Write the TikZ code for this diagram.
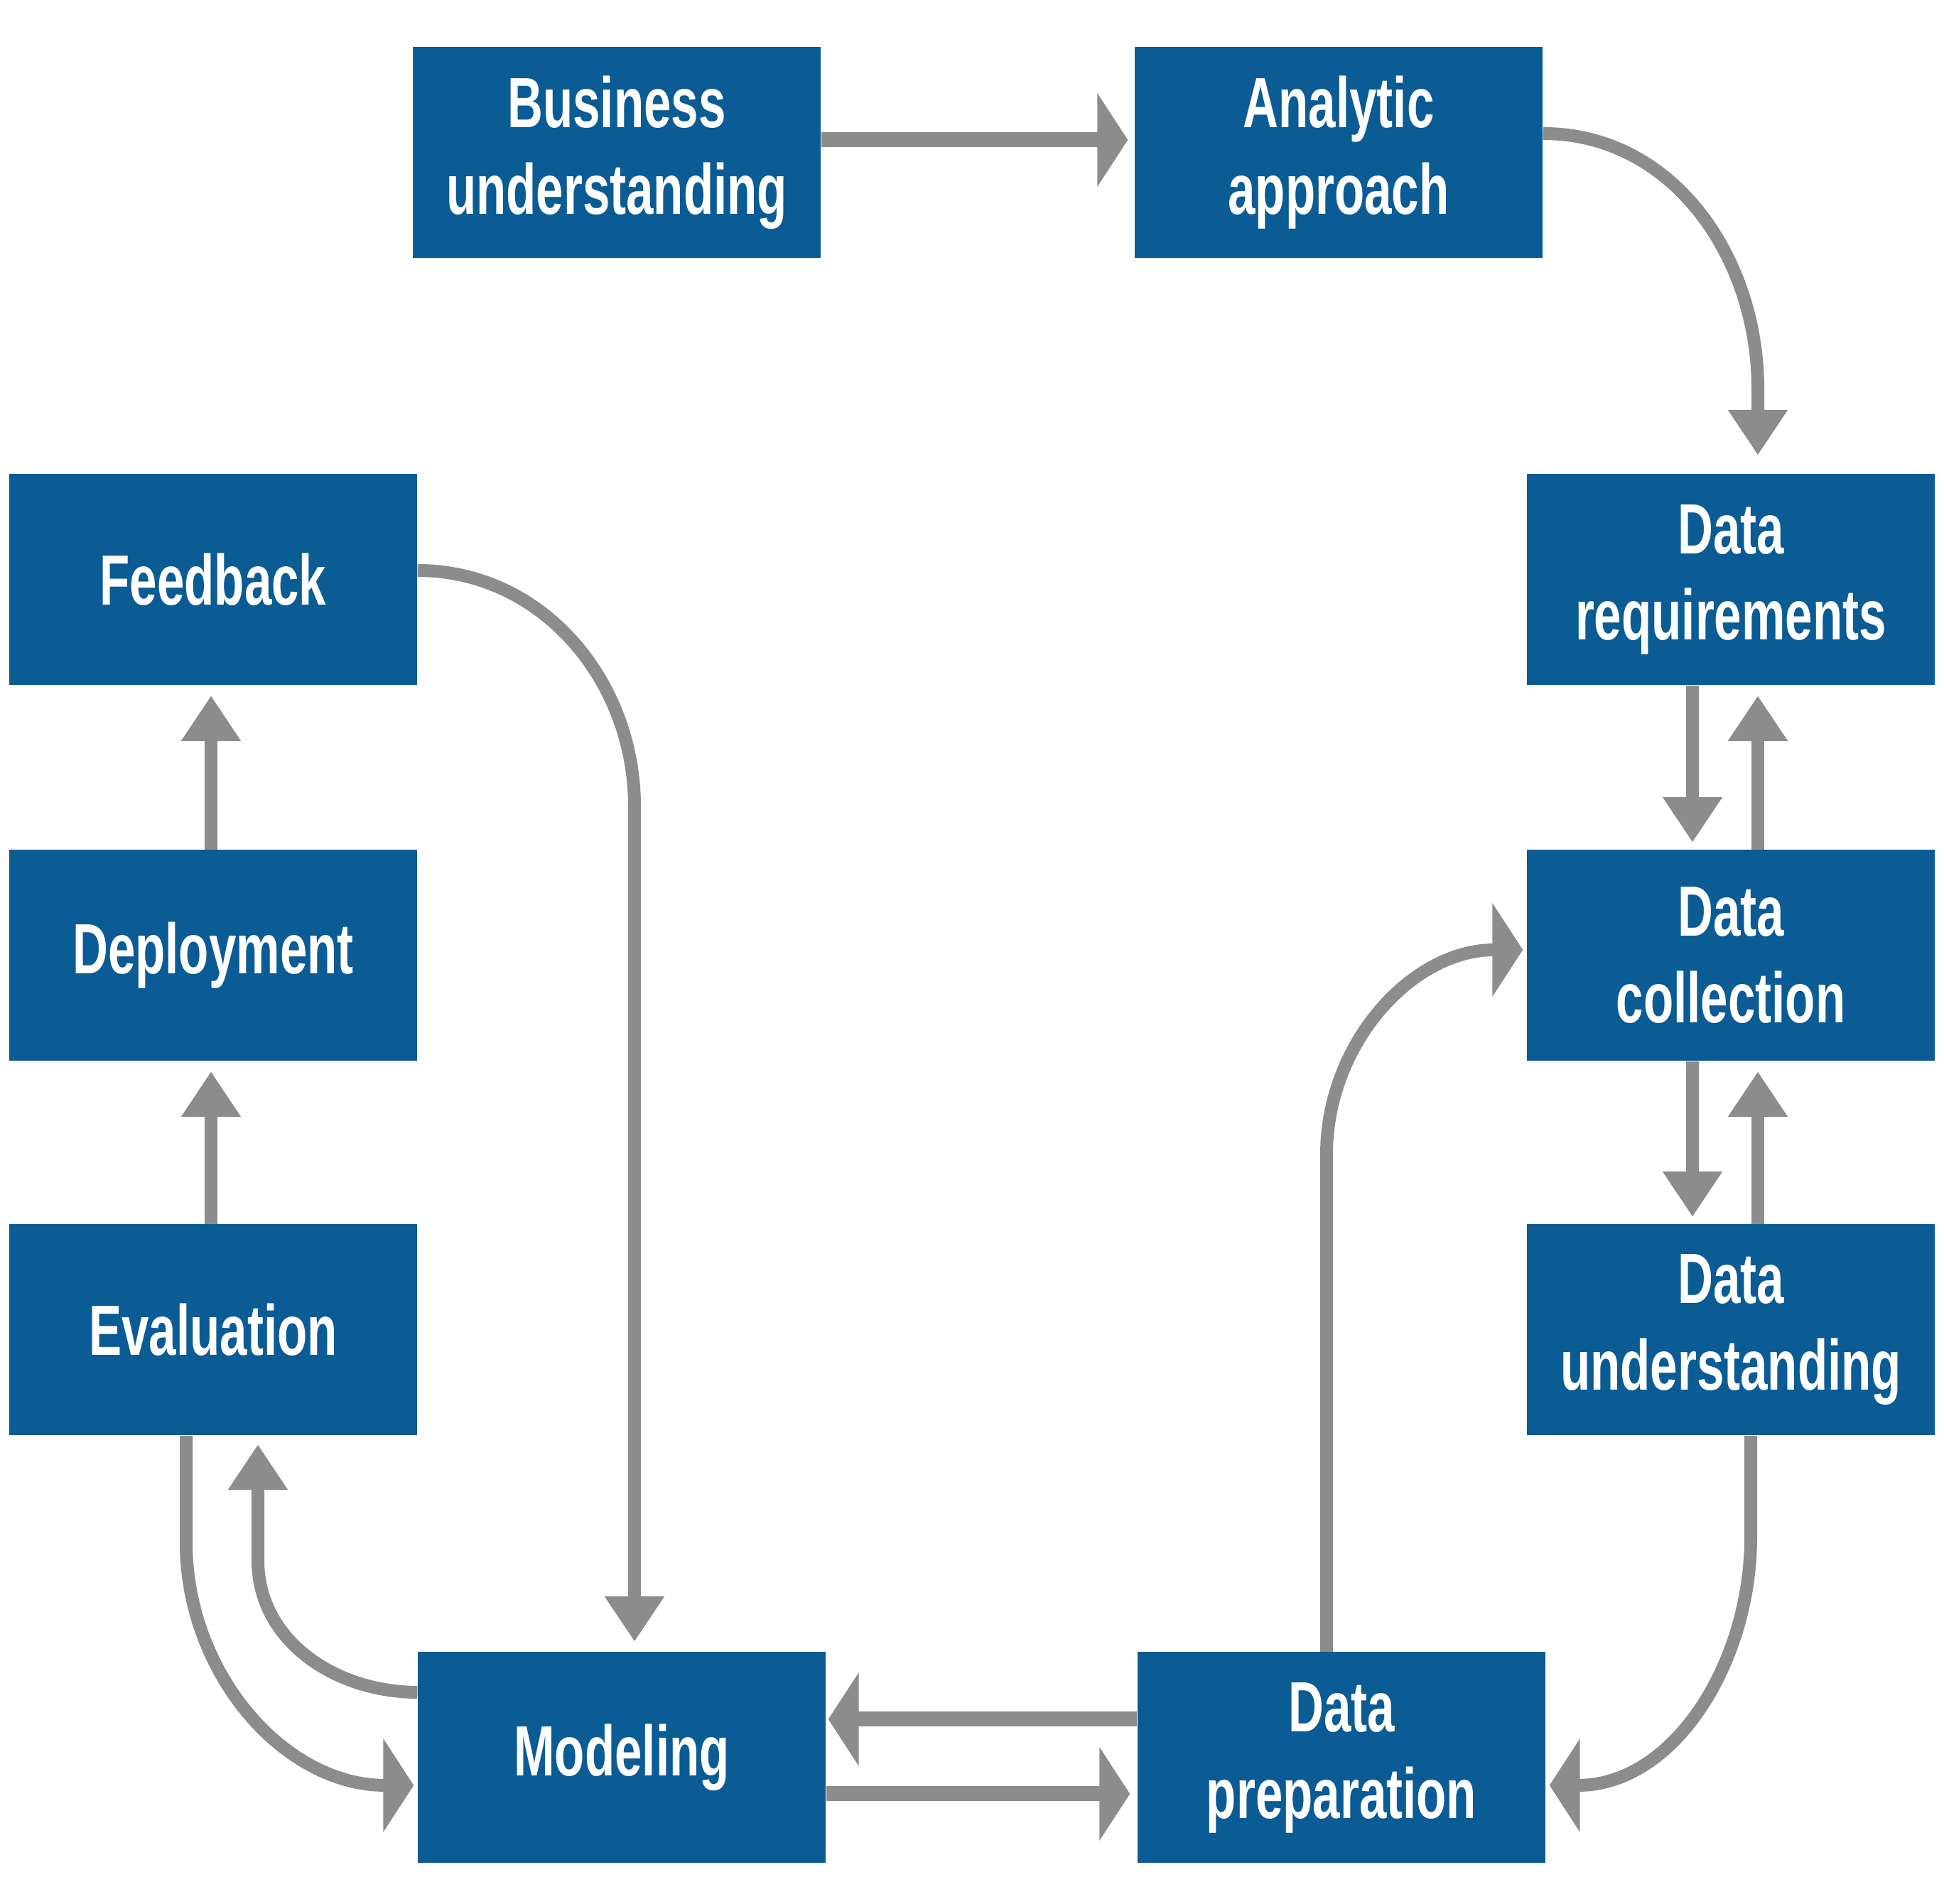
\documentclass[tikz,border=0pt]{standalone}
\usepackage{fontspec}
\usepackage{xcolor}
\usepackage{tikz}
\usetikzlibrary{calc, positioning, arrows.meta}
\newfontfamily\stagefont{Liberation Sans}[FakeStretch=0.69]
\definecolor{stageblue}{RGB}{11,91,148}
\definecolor{flowgray}{RGB}{140,140,140}
\tikzset{
    stage/.style={rectangle, fill=stageblue, text=white, minimum width=5.74cm, minimum height=2.97cm, inner sep=0pt, align=center, font=\stagefont\bfseries\fontsize{28.5}{34.7}\selectfont},
    flow/.style={draw=flowgray, line width=0.18cm},
    flowwide/.style={draw=flowgray, line width=0.21cm},
    vhead/.tip={Triangle[length=0.64cm, width=0.8cm]},
    hhead/.tip={Triangle[length=0.43cm, width=1.3cm]}
}

\begin{document}
\begin{tikzpicture}
    \path[fill=white] (0,0) rectangle (27.36,26.80);
    \useasboundingbox (0,0) rectangle (27.36,26.80);

    % Stages
    \node[stage] (bu) at (8.68,24.65) {Business\\understanding};
    \node[stage] (aa) at (18.84,24.65) {Analytic\\approach};
    \node[stage] (dr) at (24.36,18.64) {Data\\requirements};
    \node[stage] (dc) at (24.36,13.35) {Data\\collection};
    \node[stage] (du) at (24.36,8.08) {Data\\understanding};
    \node[stage] (dp) at (18.88,2.06) {Data\\preparation};
    \node[stage] (mo) at (8.75,2.06) {Modeling};
    \node[stage] (ev) at (3.00,8.08) {Evaluation};
    \node[stage] (de) at (3.00,13.35) {Deployment};
    \node[stage] (fb) at (3.00,18.64) {Feedback};

    % Top row
    \draw[flowwide, -hhead] ([yshift=0.18cm]bu.east) -- ([shift={(-0.09,0.18)}]aa.west);
    \draw[flow, -vhead] ([yshift=0.27cm]aa.east) to[out=0, in=90] ($(dr.north)+(0.38,1.2)$) -- ([shift={(0.38,0.26)}]dr.north);

    % Right column
    \draw[flow, -vhead] ([xshift=-0.54cm]dr.south) -- ([shift={(-0.54,0.10)}]dc.north);
    \draw[flow, -vhead] ([xshift=0.38cm]dc.north) -- ([shift={(0.38,-0.14)}]dr.south);
    \draw[flow, -vhead] ([xshift=-0.54cm]dc.south) -- ([shift={(-0.54,0.10)}]du.north);
    \draw[flow, -vhead] ([xshift=0.38cm]du.north) -- ([shift={(0.38,-0.14)}]dc.south);
    \draw[flow, -hhead] ([xshift=0.28cm]du.south) -- ++(0,-1.43) to[out=-90, in=0] ([shift={(0.05,-0.39)}]dp.east);
    \draw[flow, -hhead] ([xshift=-0.21cm]dp.north) -- ++(0,7.0) to[out=90, in=180] ([shift={(-0.05,0.08)}]dc.west);

    % Bottom row
    \draw[flowwide, -hhead] ([yshift=0.54cm]dp.west) -- ([shift={(0.03,0.54)}]mo.east);
    \draw[flowwide, -hhead] ([yshift=-0.51cm]mo.east) -- ([shift={(-0.10,-0.51)}]dp.west);

    % Left column
    \draw[flow, -vhead] ([yshift=0.13cm]fb.east) to[out=0, in=90] ($(mo.north)+(0.18,11.9)$) -- ([shift={(0.18,0.14)}]mo.north);
    \draw[flow, -vhead] ([yshift=0.92cm]mo.west) to[out=180, in=-90] ($(ev.south)+(0.63,-1.75)$) -- ([shift={(0.63,-0.12)}]ev.south);
    \draw[flow, -hhead] ([xshift=-0.38cm]ev.south) -- ++(0,-1.5) to[out=-90, in=180] ([shift={(-0.05,-0.39)}]mo.west);
    \draw[flow, -vhead] ([xshift=-0.03cm]ev.north) -- ([shift={(-0.03,-0.14)}]de.south);
    \draw[flow, -vhead] ([xshift=-0.03cm]de.north) -- ([shift={(-0.03,-0.14)}]fb.south);
\end{tikzpicture}
\end{document}
